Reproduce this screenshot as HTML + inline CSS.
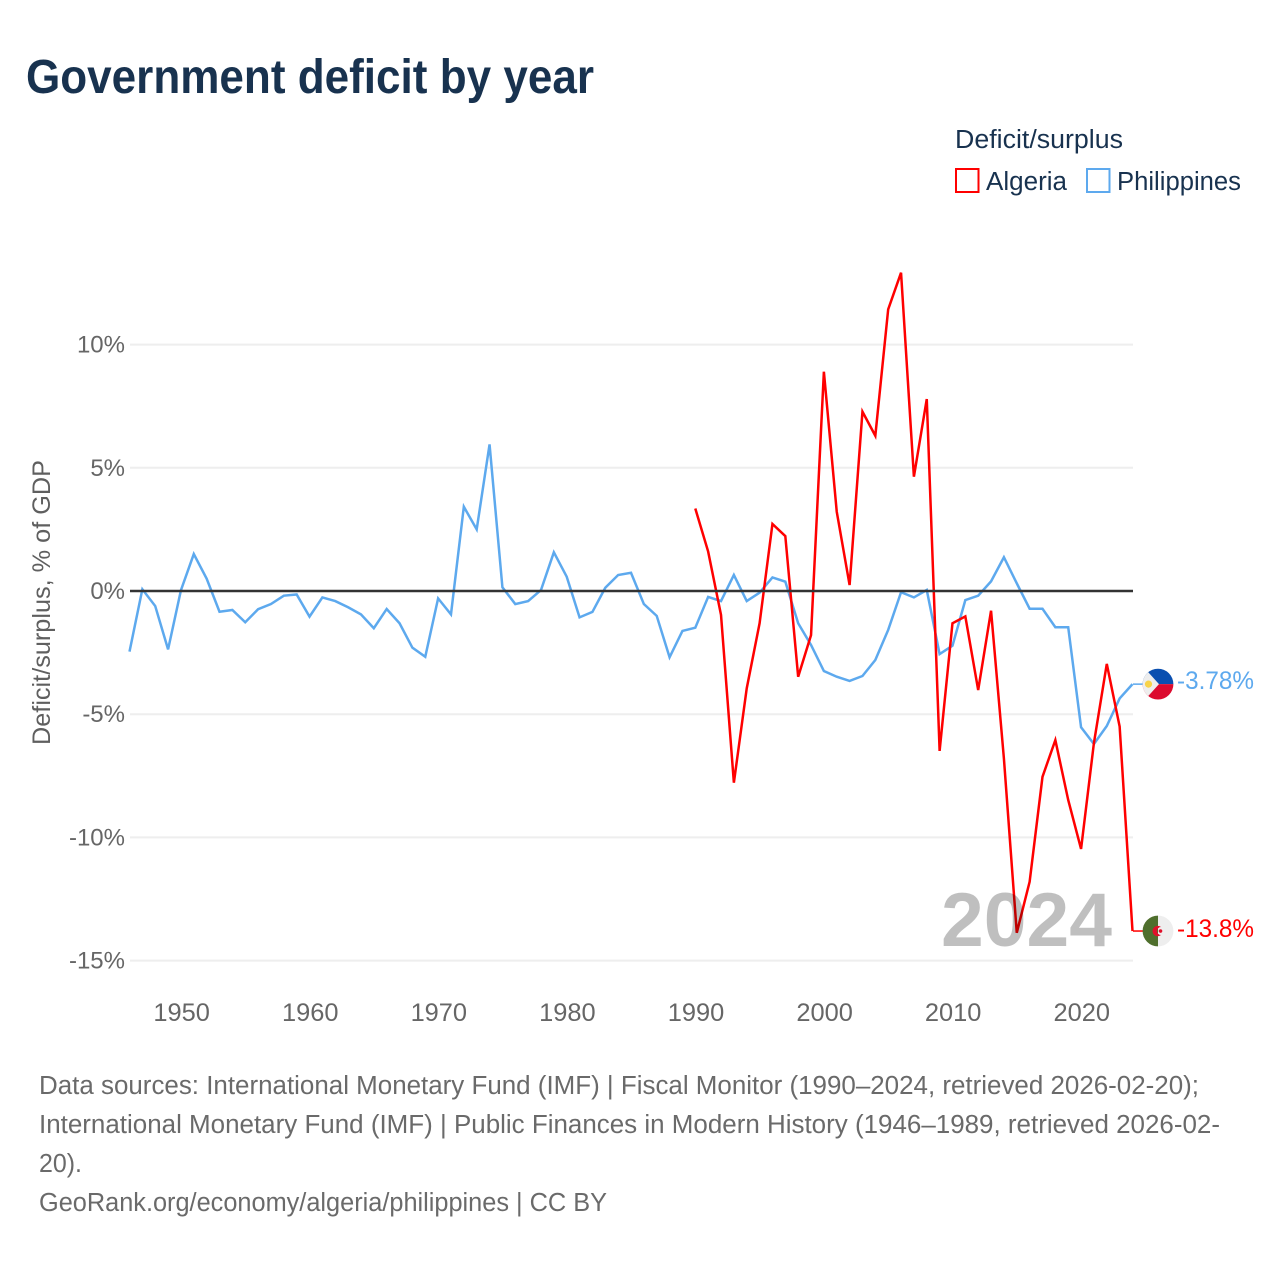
<!DOCTYPE html>
<html lang="en">
<head>
<meta charset="utf-8">
<title>Government deficit by year</title>
<style>
html,body{margin:0;padding:0;background:#fff;}
svg{display:block;font-family:"Liberation Sans",sans-serif;}
</style>
</head>
<body>
<svg id="chart" width="1280" height="1280" viewBox="0 0 1280 1280" xmlns="http://www.w3.org/2000/svg">
  <defs>
    <clipPath id="flag-clip"><circle cx="0" cy="0" r="15.4"/></clipPath>
  </defs>
  <rect width="1280" height="1280" fill="#fff"/>
  <text x="26" y="93" font-size="48" font-weight="bold" fill="#18324f" textLength="568" lengthAdjust="spacingAndGlyphs">Government deficit by year</text>

  <text x="955" y="148" font-size="25.5" fill="#18324f" textLength="168" lengthAdjust="spacingAndGlyphs">Deficit/surplus</text>
  <rect x="956" y="169" width="22.5" height="23" fill="none" stroke="#ff0000" stroke-width="2"/>
  <text x="986" y="190" font-size="25.5" fill="#18324f" textLength="81" lengthAdjust="spacingAndGlyphs">Algeria</text>
  <rect x="1087" y="169" width="22.5" height="23" fill="none" stroke="#5da9ee" stroke-width="2"/>
  <text x="1117" y="190" font-size="25.5" fill="#18324f" textLength="124" lengthAdjust="spacingAndGlyphs">Philippines</text>

  <text transform="translate(50,745) rotate(-90)" font-size="25" fill="#5f5f5f" textLength="285" lengthAdjust="spacingAndGlyphs">Deficit/surplus, % of GDP</text>

  <g id="grid"></g>
  <g id="y-ticks"></g>
  <g id="x-ticks"></g>
  <g id="series"></g>
  <line id="zero-line" stroke="#333" stroke-width="2.6"/>

  <text x="941" y="946" font-size="76" font-weight="bold" fill="#000" fill-opacity="0.25" textLength="171" lengthAdjust="spacingAndGlyphs">2024</text>

  <g id="flag-philippines" clip-path="url(#flag-clip)">
    <rect x="-16" y="-16" width="32" height="16" fill="#0a4fb0"/>
    <rect x="-16" y="0" width="32" height="16" fill="#dc0a2e"/>
    <path d="M-16,-16 L-13,-15.5 L1,0 L-13,15.5 L-16,16 Z" fill="#eeeeee"/>
    <circle cx="-9.5" cy="0" r="3.6" fill="#f8d34a"/>
  </g>
  <g id="flag-algeria" clip-path="url(#flag-clip)">
    <rect x="-16" y="-16" width="16" height="32" fill="#4f6f2d"/>
    <rect x="0" y="-16" width="16" height="32" fill="#eeeeee"/>
    <path d="M3,-4 A5.2,5.2 0 1 0 3,4 A4,4 0 1 1 3,-4 Z" fill="#e0102a"/>
    <circle cx="2.5" cy="0" r="1.8" fill="#e0102a"/>
  </g>
  <text id="label-philippines" x="1177" font-size="25" fill="#5da9ee" textLength="77" lengthAdjust="spacingAndGlyphs"></text>
  <text id="label-algeria" x="1177" font-size="25" fill="#ff0000" textLength="77" lengthAdjust="spacingAndGlyphs"></text>

  <g font-size="25.5" fill="#6a6a6a">
    <text x="39" y="1094" textLength="1160" lengthAdjust="spacingAndGlyphs">Data sources: International Monetary Fund (IMF) | Fiscal Monitor (1990–2024, retrieved 2026-02-20);</text>
    <text x="39" y="1133" textLength="1181" lengthAdjust="spacingAndGlyphs">International Monetary Fund (IMF) | Public Finances in Modern History (1946–1989, retrieved 2026-02-</text>
    <text x="39" y="1172" textLength="43" lengthAdjust="spacingAndGlyphs">20).</text>
    <text x="39" y="1211" textLength="568" lengthAdjust="spacingAndGlyphs">GeoRank.org/economy/algeria/philippines | CC BY</text>
  </g>
</svg>
<script>
const yTickValues = [10, 5, 0, -5, -10, -15];
const xTickValues = [1950, 1960, 1970, 1980, 1990, 2000, 2010, 2020];
const philippinesStartYear = 1946;
const philippinesValues = [
  -2.46, 0.07, -0.61, -2.37, 0.03, 1.5, 0.5, -0.84, -0.77, -1.27,
  -0.74, -0.53, -0.19, -0.14, -1.04, -0.26, -0.41, -0.66, -0.95, -1.51,
  -0.73, -1.31, -2.3, -2.67, -0.3, -0.95, 3.42, 2.5, 5.95, 0.15,
  -0.53, -0.41, 0.04, 1.57, 0.58, -1.07, -0.85, 0.13, 0.65, 0.74,
  -0.53, -1.01, -2.69, -1.62, -1.49, -0.24, -0.41, 0.65, -0.41, -0.07,
  0.55, 0.38, -1.31, -2.19, -3.25, -3.48, -3.65, -3.45, -2.8, -1.58,
  -0.05, -0.26, 0.04, -2.56, -2.22, -0.37, -0.19, 0.39, 1.37, 0.31,
  -0.72, -0.72, -1.47, -1.47, -5.53, -6.21, -5.48, -4.36, -3.78
];
const algeriaStartYear = 1990;
const algeriaValues = [
  3.35, 1.6, -0.97, -7.78, -3.95, -1.31, 2.72, 2.23, -3.48, -1.79,
  8.9, 3.22, 0.24, 7.28, 6.3, 11.43, 12.92, 4.64, 7.79, -6.49,
  -1.31, -1.03, -4.02, -0.8, -6.8, -13.87, -11.8, -7.54, -6.05, -8.48,
  -10.47, -6.17, -2.96, -5.5, -13.8
];
const philippinesEndLabel = "-3.78%";
const algeriaEndLabel = "-13.8%";

const NS = "http://www.w3.org/2000/svg";
const xScale = year => 129.5 + (year - 1946) * (1003 / 78);
const yScale = value => 591 - value * 24.64;
const plotLeft = 130;
const plotRight = 1133;

const gridGroup = document.getElementById("grid");
const yTickGroup = document.getElementById("y-ticks");
const xTickGroup = document.getElementById("x-ticks");
const seriesGroup = document.getElementById("series");

yTickValues.forEach(function (v) {
  if (v !== 0) {
    const gl = document.createElementNS(NS, "line");
    
    
    gl.setAttribute("x1", plotLeft);
    gl.setAttribute("x2", plotRight);
    gl.setAttribute("y1", yScale(v));
    gl.setAttribute("y2", yScale(v));
    gl.setAttribute("stroke", "#eeeeee");
    gl.setAttribute("stroke-width", "2");
    gridGroup.appendChild(gl);
  }
  const t = document.createElementNS(NS, "text");
  
  
  t.setAttribute("x", 125);
  t.setAttribute("y", yScale(v) + 8);
  t.setAttribute("text-anchor", "end");
  t.setAttribute("font-size", "24");
  t.setAttribute("fill", "#666666");
  t.textContent = v + "%";
  yTickGroup.appendChild(t);
});

xTickValues.forEach(function (year) {
  const t = document.createElementNS(NS, "text");
  
  
  t.setAttribute("x", xScale(year) + 0.7);
  t.setAttribute("y", 1021);
  t.setAttribute("text-anchor", "middle");
  t.setAttribute("font-size", "25.4");
  t.setAttribute("fill", "#666666");
  t.textContent = year;
  xTickGroup.appendChild(t);
});

function linePoints(startYear, values) {
  return values.map(function (v, i) {
    return xScale(startYear + i).toFixed(2) + "," + yScale(v).toFixed(2);
  }).join(" ");
}

const philippinesLine = document.createElementNS(NS, "polyline");


philippinesLine.setAttribute("points", linePoints(philippinesStartYear, philippinesValues));
philippinesLine.setAttribute("fill", "none");
philippinesLine.setAttribute("stroke", "#5da9ee");
philippinesLine.setAttribute("stroke-width", "2.5");
philippinesLine.setAttribute("stroke-linejoin", "miter");
seriesGroup.appendChild(philippinesLine);

const algeriaLine = document.createElementNS(NS, "polyline");


algeriaLine.setAttribute("points", linePoints(algeriaStartYear, algeriaValues));
algeriaLine.setAttribute("fill", "none");
algeriaLine.setAttribute("stroke", "#ff0000");
algeriaLine.setAttribute("stroke-width", "2.5");
algeriaLine.setAttribute("stroke-linejoin", "miter");
seriesGroup.appendChild(algeriaLine);

const philippinesLast = philippinesValues[philippinesValues.length - 1];
const algeriaLast = algeriaValues[algeriaValues.length - 1];

const philippinesStub = document.createElementNS(NS, "line");


philippinesStub.setAttribute("x1", plotRight);
philippinesStub.setAttribute("x2", plotRight + 10);
philippinesStub.setAttribute("y1", yScale(philippinesLast));
philippinesStub.setAttribute("y2", yScale(philippinesLast));
philippinesStub.setAttribute("stroke", "#5da9ee");
philippinesStub.setAttribute("stroke-width", "1.5");
seriesGroup.appendChild(philippinesStub);

const algeriaStub = document.createElementNS(NS, "line");


algeriaStub.setAttribute("x1", plotRight);
algeriaStub.setAttribute("x2", plotRight + 10);
algeriaStub.setAttribute("y1", yScale(algeriaLast));
algeriaStub.setAttribute("y2", yScale(algeriaLast));
algeriaStub.setAttribute("stroke", "#ff0000");
algeriaStub.setAttribute("stroke-width", "1.5");
seriesGroup.appendChild(algeriaStub);

const zeroLine = document.getElementById("zero-line");
zeroLine.setAttribute("x1", plotLeft);
zeroLine.setAttribute("x2", plotRight);
zeroLine.setAttribute("y1", yScale(0));
zeroLine.setAttribute("y2", yScale(0));

document.getElementById("flag-philippines").setAttribute("transform", "translate(1158," + yScale(philippinesLast) + ")");
document.getElementById("flag-algeria").setAttribute("transform", "translate(1158," + yScale(algeriaLast) + ")");

const labelPhilippines = document.getElementById("label-philippines");
labelPhilippines.setAttribute("y", yScale(philippinesLast) + 5);
labelPhilippines.textContent = philippinesEndLabel;

const labelAlgeria = document.getElementById("label-algeria");
labelAlgeria.setAttribute("y", yScale(algeriaLast) + 6);
labelAlgeria.textContent = algeriaEndLabel;
</script>
</body>
</html>
